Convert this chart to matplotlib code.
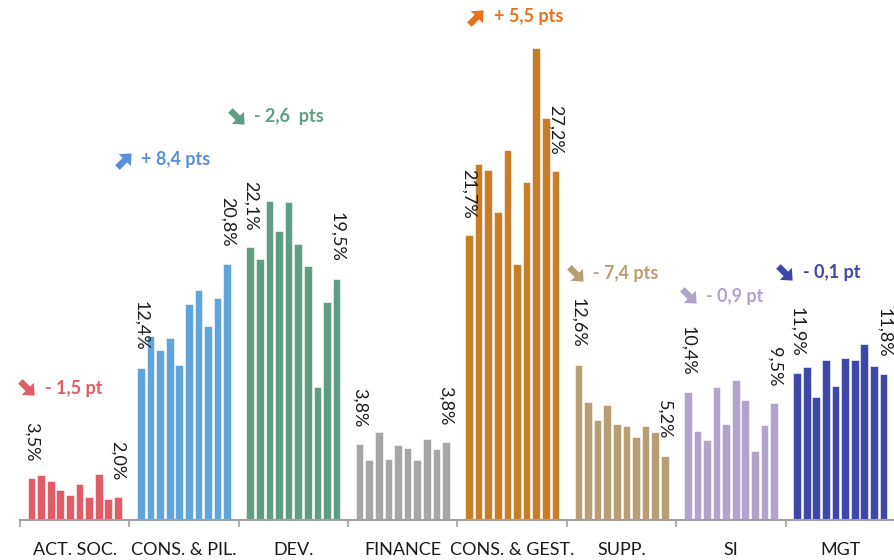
import numpy as np
import matplotlib
matplotlib.use("Agg")
import matplotlib.pyplot as plt
from matplotlib.path import Path
from matplotlib.transforms import Affine2D

# Groups and per-group bar values (%)
groups = ["ACT. SOC.", "CONS. & PIL.", "DEV.", "FINANCE", "CONS. & GEST.", "SUPP.", "SI", "MGT"]
act_soc = [3.4, 3.65, 3.2, 2.4, 2.0, 2.95, 1.9, 3.7, 1.7, 1.85]
cons_pil = [12.35, 14.9, 13.75, 14.75, 12.55, 17.5, 18.65, 15.7, 18.0, 20.8]
dev = [22.1, 21.2, 25.9, 23.45, 25.8, 22.4, 20.6, 10.8, 17.7, 19.55]
finance = [6.2, 4.9, 7.15, 4.95, 6.1, 5.8, 4.9, 6.55, 5.75, 6.3]
cons_gest = [23.1, 28.85, 28.4, 25.0, 30.0, 20.8, 27.4, 38.3, 32.6, 28.3]
supp = [12.6, 9.6, 8.1, 9.35, 7.75, 7.6, 6.75, 7.6, 7.1, 5.15]
si = [10.35, 7.25, 6.5, 10.75, 7.8, 11.35, 9.7, 5.6, 7.7, 9.5]
mgt = [11.9, 12.4, 10.0, 12.95, 10.9, 13.15, 13.0, 14.25, 12.45, 11.8]
series = [act_soc, cons_pil, dev, finance, cons_gest, supp, si, mgt]

first_labels = ["3,5%", "12,4%", "22,1%", "3,8%", "21,7%", "12,6%", "10,4%", "11,9%"]
last_labels = ["2,0%", "20,8%", "19,5%", "3,8%", "27,2%", "5,2%", "9,5%", "11,8%"]

bar_colors = ["#e05c67", "#5fa5dc", "#5f9e82", "#a6a6a6", "#c97d27", "#b99e73", "#b3a3cb", "#3f48a8"]
head_colors = ["#e05c67", "#5b8fd9", "#5f9e82", None, "#e8721a", "#b99e73", "#b3a3cb", "#3f48a8"]
head_texts = ["- 1,5 pt", "+ 8,4 pts", "- 2,6  pts", None, "+ 5,5 pts", "- 7,4 pts", "- 0,9 pt", "- 0,1 pt"]
head_up = [False, True, False, None, True, False, False, False]
head_x = [0.75, 10.8, 22.6, None, 47.55, 57.95, 69.7, 79.75]
head_y = [10.7, 29.2, 32.7, None, 40.8, 19.95, 18.15, 20.05]

pitch = 11.4
offset = 1.2

# thick arrow icon pointing right, rotated per direction
arrow_pts = [(-1.0, -0.32), (0.05, -0.32), (0.05, -0.85), (1.0, 0.0),
             (0.05, 0.85), (0.05, 0.32), (-1.0, 0.32), (-1.0, -0.32)]


def arrow_marker(up):
    verts = Affine2D().rotate_deg(45 if up else -45).transform(np.array(arrow_pts))
    return Path(verts, closed=True)


fig = plt.figure(figsize=(8.95, 5.6), dpi=100)
ax = fig.add_axes([20 / 895, 40 / 560, 875 / 895, 520 / 560])

font = ["Lato", "DejaVu Sans"]

for g, vals in enumerate(series):
    xs = g * pitch + offset + np.arange(len(vals))
    ax.bar(xs, vals, width=0.8, color=bar_colors[g], edgecolor="white", linewidth=0.4)
    ax.annotate(first_labels[g], (xs[0], vals[0]), xytext=(0, 12), textcoords="offset points",
                rotation=270, ha="center", va="bottom", fontsize=13, family=font, color="#1a1a1a")
    ax.annotate(last_labels[g], (xs[-1], vals[-1]), xytext=(0, 12), textcoords="offset points",
                rotation=270, ha="center", va="bottom", fontsize=13, family=font, color="#1a1a1a")
    if head_texts[g]:
        ax.plot([head_x[g]], [head_y[g]], linestyle="none", marker=arrow_marker(head_up[g]),
                markersize=13.5, color=head_colors[g], markeredgewidth=0, clip_on=False)
        ax.annotate(head_texts[g], (head_x[g], head_y[g]), xytext=(12.5, 0), textcoords="offset points",
                    ha="left", va="center", fontsize=13, fontweight="bold",
                    color=head_colors[g], family=font)

ax.set_xlim(0, 90.86)
ax.set_ylim(0, 42.17)

ax.set_xticks([g * pitch for g in range(len(groups) + 1)])
ax.set_xticklabels([])
ax.set_xticks([g * pitch + pitch / 2 for g in range(len(groups))], minor=True)
ax.set_xticklabels(groups, minor=True, fontsize=13, family=font, color="#1a1a1a")
ax.tick_params(axis="x", which="major", length=5, width=1.2, color="#a0a0a0", direction="out")
ax.tick_params(axis="x", which="minor", length=0, pad=16)
ax.set_yticks([])

for s in ["top", "right", "left"]:
    ax.spines[s].set_visible(False)
ax.spines["bottom"].set_color("#a0a0a0")
ax.spines["bottom"].set_linewidth(1.5)

fig.savefig("out.png", dpi=100)
